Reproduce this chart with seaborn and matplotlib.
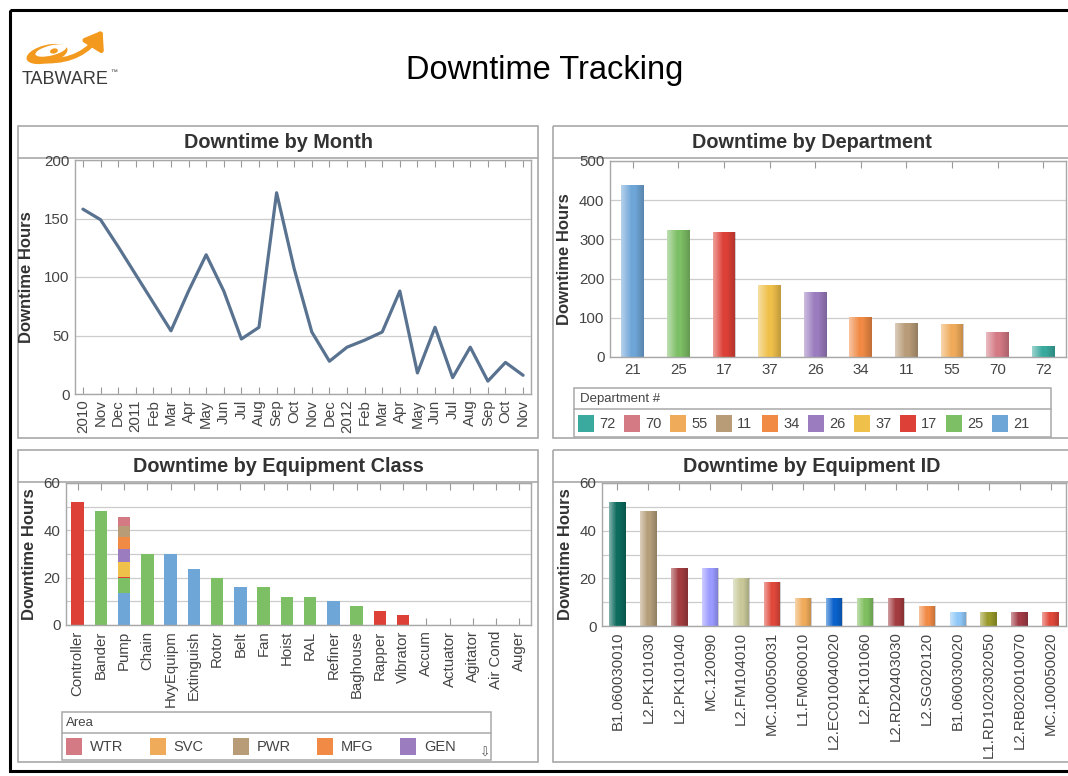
import numpy as np
import pandas as pd
import matplotlib
matplotlib.use("Agg")
import matplotlib.pyplot as plt
import matplotlib.patches as mpatches
import seaborn as sns

# ---------------- data ----------------
month_labels = ["2010", "Nov", "Dec", "2011", "Feb", "Mar", "Apr", "May", "Jun", "Jul",
                "Aug", "Sep", "Oct", "Nov", "Dec", "2012", "Feb", "Mar", "Apr", "May",
                "Jun", "Jul", "Aug", "Sep", "Oct", "Nov"]
month_hours = [158, 149, 126, 102, 78, 54, 88, 119, 88, 47, 57, 172, 107, 53, 28, 40,
               46, 53, 88, 18, 57, 14, 40, 11, 27, 16]

dept_ids = ["21", "25", "17", "37", "26", "34", "11", "55", "70", "72"]
dept_hours = [440, 323, 319, 184, 166, 102, 88, 84, 63, 27]
dept_colors = ["#6fa6d8", "#7dbf65", "#dc4036", "#efc04a", "#9b7dbf",
               "#f08a45", "#b89c78", "#efab5a", "#d47a85", "#3aaa9f"]

equip_classes = ["Controller", "Bander", "Pump", "Chain", "HvyEquipm", "Extinguish", "Rotor",
                 "Belt", "Fan", "Hoist", "RAL", "Refiner", "Baghouse", "Rapper", "Vibrator",
                 "Accum", "Actuator", "Agitator", "Air Cond", "Auger"]
# areas, stacked bottom-up; the last five are the ones visible in the legend
area_names = ["Area9", "Area8", "Area7", "Area6", "GEN", "MFG", "PWR", "SVC", "WTR"]
area_colors = ["#6fa6d8", "#7dbf65", "#dc4036", "#efc04a", "#9b7dbf",
               "#f08a45", "#b89c78", "#efab5a", "#d47a85"]
area_hours = {
    "Area9": [0, 0, 13.6, 0, 30, 23.8, 0, 16, 0, 0, 0, 10, 0, 0, 0, 0, 0, 0, 0, 0],
    "Area8": [0, 48, 6.4, 30, 0, 0, 20, 0, 16, 12, 12, 0, 7.9, 0, 0, 0, 0, 0, 0, 0],
    "Area7": [52, 0, 0.4, 0, 0, 0, 0, 0, 0, 0, 0, 0, 0, 5.9, 4.2, 0, 0, 0, 0, 0],
    "Area6": [0, 0, 6.3, 0, 0, 0, 0, 0, 0, 0, 0, 0, 0, 0, 0, 0, 0, 0, 0, 0],
    "GEN":   [0, 0, 5.3, 0, 0, 0, 0, 0, 0, 0, 0, 0, 0, 0, 0, 0, 0, 0, 0, 0],
    "MFG":   [0, 0, 5.2, 0, 0, 0, 0, 0, 0, 0, 0, 0, 0, 0, 0, 0, 0, 0, 0, 0],
    "PWR":   [0, 0, 4.6, 0, 0, 0, 0, 0, 0, 0, 0, 0, 0, 0, 0, 0, 0, 0, 0, 0],
    "SVC":   [0, 0, 0.0, 0, 0, 0, 0, 0, 0, 0, 0, 0, 0, 0, 0, 0, 0, 0, 0, 0],
    "WTR":   [0, 0, 4.0, 0, 0, 0, 0, 0, 0, 0, 0, 0, 0, 0, 0, 0, 0, 0, 0, 0],
}
area_legend = ["WTR", "SVC", "PWR", "MFG", "GEN"]

equip_ids = ["B1.060030010", "L2.PK101030", "L2.PK101040", "MC.120090", "L2.FM104010",
             "MC.100050031", "L1.FM060010", "L2.EC010040020", "L2.PK101060", "L2.RD20403030",
             "L2.SG020120", "B1.060030020", "L1.RD1020302050", "L2.RB020010070", "MC.100050020"]
equip_id_hours = [52, 48.2, 24.3, 24.3, 20, 18.4, 11.9, 11.9, 11.9, 11.9, 8.4, 5.9, 5.9, 5.9, 5.9]
equip_id_colors = ["#0c6b5e", "#b59e7a", "#a23c40", "#9a9aff", "#c8c89a", "#e0483a",
                   "#efab5a", "#0a62cc", "#80bf60", "#a33c40", "#f08a45", "#8fc8f8",
                   "#9a9a2a", "#a23c46", "#e0483a"]

# ---------------- style ----------------
sns.set_style("white")
plt.rcParams["font.family"] = ["Liberation Sans", "DejaVu Sans"]

W, H = 1068, 776
fig = plt.figure(figsize=(W / 100, H / 100), dpi=100)
fig.patch.set_facecolor("white")

TXT = "#333333"
TICK = "#444444"
SPINE = "#a8a8a8"
GRID = "#cccccc"
ORANGE = "#f39a1e"
TICKSIZE = 10.8


def frect(x0, y0, x1, y1):
    return [x0 / W, 1 - y1 / H, (x1 - x0) / W, (y1 - y0) / H]


# background / decoration layer in pixel coordinates
bg = fig.add_axes([0, 0, 1, 1])
bg.set_xlim(0, W)
bg.set_ylim(H, 0)
bg.axis("off")
bg.set_zorder(0)

# outer black frame
bg.add_patch(mpatches.Rectangle((10, 10), 1070, 761, fill=False, ec="black", lw=2.2))

# logo (crescent ring + sweeping arrow)
bg.add_patch(mpatches.Ellipse((47, 54), 42, 18, angle=-14, color=ORANGE, lw=0))
bg.add_patch(mpatches.Ellipse((51, 50.5), 32, 10, angle=-14, color="white", lw=0))
bg.add_patch(mpatches.Ellipse((54, 51), 8, 5, angle=-14, color=ORANGE, lw=0))
bg.add_patch(mpatches.FancyArrowPatch((44, 61), (104, 28), connectionstyle="arc3,rad=0.3",
                                      arrowstyle="-|>,head_length=0.7,head_width=0.5",
                                      mutation_scale=14, color=ORANGE, lw=3.5))
bg.text(22, 80, "TABWARE", fontsize=13, color="#3a3a3a", va="center", ha="left")
bg.text(110, 73, "\u2122", fontsize=5, color="#3a3a3a", va="center", ha="left")

# main title
bg.text(545, 70, "Downtime Tracking", fontsize=23.5, color="black", ha="center", va="center")

panels = [
    (18, 126, 538, 438, 158, "Downtime by Month"),
    (553, 126, 1072, 438, 158, "Downtime by Department"),
    (18, 450, 538, 762, 482, "Downtime by Equipment Class"),
    (553, 450, 1072, 762, 482, "Downtime by Equipment ID"),
]
for x0, y0, x1, y1, yl, title in panels:
    bg.add_patch(mpatches.Rectangle((x0, y0), x1 - x0, y1 - y0, fill=False, ec=SPINE, lw=1.2))
    bg.plot([x0, x1], [yl, yl], color=SPINE, lw=1.2)
    cx = (x0 + x1) / 2 if x1 < 1068 else (x0 + 1070) / 2
    bg.text(cx, (y0 + yl) / 2 + 1, title, fontsize=14.3, fontweight="bold", color=TXT,
            ha="center", va="center")


def style_axes(ax):
    for s in ax.spines.values():
        s.set_color(SPINE)
        s.set_linewidth(1.0)
    ax.grid(axis="y", color=GRID, lw=0.9)
    ax.grid(axis="x", visible=False)
    ax.set_axisbelow(True)
    ax.tick_params(axis="x", top=True, bottom=True, direction="in", length=5,
                   color="#999999", labelsize=TICKSIZE, labelcolor=TICK, pad=4)
    ax.tick_params(axis="y", length=0, labelsize=TICKSIZE, labelcolor=TICK, pad=4)
    ax.set_xlabel("")
    ax.set_ylabel("Downtime Hours", fontsize=12, fontweight="bold", color=TXT)


def shade_bars(ax, patches):
    ylim, xlim = ax.get_ylim(), ax.get_xlim()
    grad = np.zeros((1, 64, 4))
    t = np.linspace(0, 1, 64)
    white = np.clip((0.45 - t) / 0.45, 0, 1) * 0.5
    dark = np.clip((t - 0.6) / 0.4, 0, 1) * 0.2
    grad[0, :, :3] = np.where(white[:, None] > 0, 1.0, 0.0)
    grad[0, :, 3] = white + dark
    for p in patches:
        if p.get_height() <= 0:
            continue
        x0, y0 = p.get_x(), p.get_y()
        im = ax.imshow(grad, extent=[x0, x0 + p.get_width(), y0, y0 + p.get_height()],
                       aspect="auto", zorder=p.get_zorder() + 0.1, interpolation="bilinear")
        im.set_clip_path(p)
    ax.set_ylim(ylim)
    ax.set_xlim(xlim)


# ---------------- Downtime by Month ----------------
ax1 = fig.add_axes(frect(75, 160, 531, 394))
ax1.set_zorder(1)
df_m = pd.DataFrame({"pos": np.arange(len(month_hours)), "hours": month_hours})
sns.lineplot(data=df_m, x="pos", y="hours", color="#587290", lw=2.3, ax=ax1)
ax1.set_xlim(-0.45, len(month_hours) - 0.55)
ax1.set_ylim(0, 200)
ax1.set_yticks([0, 50, 100, 150, 200])
ax1.set_xticks(df_m["pos"])
ax1.set_xticklabels(month_labels, rotation=90)
style_axes(ax1)
ax1.yaxis.labelpad = 7

# ---------------- Downtime by Department ----------------
ax2 = fig.add_axes(frect(610, 161, 1066, 357))
ax2.set_zorder(1)
df_d = pd.DataFrame({"dept": dept_ids, "hours": dept_hours})
sns.barplot(data=df_d, x="dept", y="hours", hue="dept", order=dept_ids, hue_order=dept_ids,
            palette=dept_colors, saturation=1, width=0.5, legend=False, linewidth=0, ax=ax2)
ax2.set_ylim(0, 500)
ax2.set_yticks([0, 100, 200, 300, 400, 500])
style_axes(ax2)
ax2.tick_params(axis="x", rotation=0, length=5)
ax2.yaxis.labelpad = 5
shade_bars(ax2, list(ax2.patches))

# department legend
bg.add_patch(mpatches.Rectangle((574, 388), 477, 49, fill=False, ec=SPINE, lw=1.1))
bg.plot([574, 1051], [409, 409], color=SPINE, lw=1.1)
bg.text(580, 399, "Department #", fontsize=9.5, color=TICK, ha="left", va="center")
for i, (d, c) in enumerate(zip(dept_ids[::-1], dept_colors[::-1])):
    x = 578 + i * 46
    bg.add_patch(mpatches.Rectangle((x, 415), 16, 17, color=c, lw=0))
    bg.text(x + 21, 424, d, fontsize=10.5, color=TICK, ha="left", va="center")

# ---------------- Downtime by Equipment Class ----------------
ax3 = fig.add_axes(frect(66, 483, 531, 625))
ax3.set_zorder(1)
df_a = pd.DataFrame(area_hours, index=equip_classes)
cum = df_a[area_names].cumsum(axis=1)
for name, color in list(zip(area_names, area_colors))[::-1]:
    layer = pd.DataFrame({"cls": equip_classes, "hours": cum[name].values})
    sns.barplot(data=layer, x="cls", y="hours", order=equip_classes, color=color,
                saturation=1, width=0.53, linewidth=0, ax=ax3)
ax3.set_ylim(0, 60)
ax3.set_yticks([0, 10, 20, 30, 40, 50, 60])
ax3.set_yticklabels(["0", "", "20", "", "40", "", "60"])
style_axes(ax3)
ax3.tick_params(axis="x", rotation=90)
ax3.yaxis.labelpad = 5

# area legend
bg.add_patch(mpatches.Rectangle((62, 712), 429, 48, fill=False, ec=SPINE, lw=1.1))
bg.plot([62, 491], [733, 733], color=SPINE, lw=1.1)
bg.text(66, 723, "Area", fontsize=9.5, color=TICK, ha="left", va="center")
for i, name in enumerate(area_legend):
    c = area_colors[area_names.index(name)]
    x = 66 + i * 83.5
    bg.add_patch(mpatches.Rectangle((x, 738), 16, 17, color=c, lw=0))
    bg.text(x + 24, 747, name, fontsize=10.5, color=TICK, ha="left", va="center")
bg.text(485, 753, "\u21e9", fontsize=9, color="#555555", ha="center", va="center",
        family="DejaVu Sans")

# ---------------- Downtime by Equipment ID ----------------
ax4 = fig.add_axes(frect(602, 483, 1066, 626))
ax4.set_zorder(1)
df_e = pd.DataFrame({"eid": equip_ids, "hours": equip_id_hours})
sns.barplot(data=df_e, x="eid", y="hours", hue="eid", order=equip_ids, hue_order=equip_ids,
            palette=equip_id_colors, saturation=1, width=0.53, legend=False, linewidth=0,
            ax=ax4)
ax4.set_ylim(0, 60)
ax4.set_yticks([0, 10, 20, 30, 40, 50, 60])
ax4.set_yticklabels(["0", "", "20", "", "40", "", "60"])
style_axes(ax4)
ax4.tick_params(axis="x", rotation=90)
ax4.yaxis.labelpad = 5
shade_bars(ax4, list(ax4.patches))

fig.savefig("out.png", dpi=100, facecolor="white")
